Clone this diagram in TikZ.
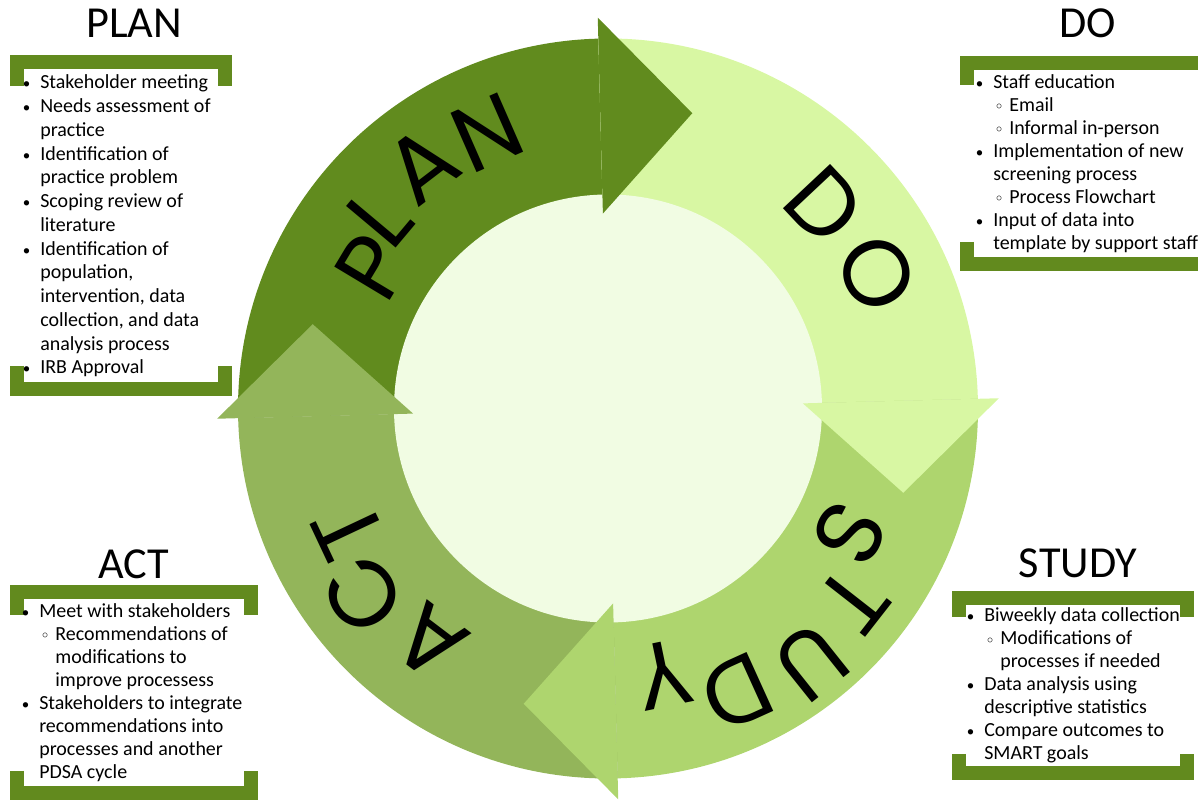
\documentclass[tikz,border=0pt]{standalone}
\usepackage{fontspec}
\setmainfont{Carlito}
\newfontfamily\ringfont{Poppins}
\definecolor{planc}{RGB}{97,139,30}
\definecolor{doc}{RGB}{216,247,163}
\definecolor{studyc}{RGB}{174,213,110}
\definecolor{actc}{RGB}{147,181,90}
\definecolor{innerc}{RGB}{241,252,227}
\definecolor{brk}{RGB}{98,138,30}
\newcommand{\bul}{\llap{\scalebox{0.75}{\textbullet}\hspace{7pt}}}
\newcommand{\subind}{\hspace*{11.4pt}}
\newcommand{\subbul}{\subind\llap{\raisebox{1pt}{\scalebox{0.6}{$\circ$}}\hspace{5pt}}}
\tikzset{
  bracket/.style={draw=brk,line width=0.35cm},
  boxtitle/.style={anchor=base,inner sep=0,font=\fontsize{31.5}{36}\selectfont},
  boxtext/.style={anchor=base west,inner sep=0,align=left,font=\fontsize{14.2}{16.4}\selectfont},
  ringletter/.style={inner sep=0,font=\ringfont\fontsize{66}{66}\selectfont}
}
\begin{document}
\begin{tikzpicture}[x=0.025cm,y=0.025cm]
	\useasboundingbox (0,0) rectangle (1198,800);
	\coordinate (c) at (608,391.5);
	% ring quarters
	\fill[planc] (c) -- ++(91.5:370) arc[start angle=91.5,end angle=181.5,radius=370] -- cycle;
	\fill[doc] (c) -- ++(1.5:370) arc[start angle=1.5,end angle=91.5,radius=370] -- cycle;
	\fill[studyc] (c) -- ++(-88.5:370) arc[start angle=-88.5,end angle=1.5,radius=370] -- cycle;
	\fill[actc] (c) -- ++(-178.5:370) arc[start angle=-178.5,end angle=-88.5,radius=370] -- cycle;
	\fill[innerc] (c) circle[radius=214];
	% arrow heads
	\begin{scope}[shift={(c)},rotate=91.5]
		\fill[planc] (195,0) -- (391,0) -- (293,-92) -- cycle;
	\end{scope}
	\begin{scope}[shift={(c)},rotate=1.5]
		\fill[doc] (195,0) -- (391,0) -- (293,-92) -- cycle;
	\end{scope}
	\begin{scope}[shift={(c)},rotate=-88.5]
		\fill[studyc] (195,0) -- (391,0) -- (293,-92) -- cycle;
	\end{scope}
	\begin{scope}[shift={(c)},rotate=-178.5]
		\fill[actc] (195,0) -- (391,0) -- (293,-92) -- cycle;
	\end{scope}
	% words on the ring
	\begin{scope}[shift={(c)}]
		\node[ringletter,rotate=59] (p1) at (149:275) {P};
		\node[ringletter,rotate=50] (p2) at (140:298) {L};
		\node[ringletter,rotate=37.4] (p3) at (127.4:306) {A};
		\node[ringletter,rotate=23.7] (p4) at (113.7:301) {N};
		\node[ringletter,rotate=-46.8] (d1) at (43.2:297) {D};
		\node[ringletter,rotate=-63.3] (d2) at (26.7:301) {O};
		\node[ringletter,rotate=-117.5] (s1) at (-27.5:272) {S};
		\node[ringletter,rotate=-128] (s2) at (-38:311) {T};
		\node[ringletter,rotate=-141.4] (s3) at (-51.4:325) {U};
		\node[ringletter,rotate=-155.6] (s4) at (-65.6:312) {D};
		\node[ringletter,rotate=-168.3] (s5) at (-78.3:272) {Y};
		\node[ringletter,rotate=142.8] (a1) at (232.8:294) {A};
		\node[ringletter,rotate=127.2] (a2) at (217.2:308) {C};
		\node[ringletter,rotate=115.2] (a3) at (205.2:287) {T};
	\end{scope}
	% side boxes
	\draw[bracket] (17,714) |- (225,738) -- (225,714);
	\draw[bracket] (17,434) |- (225,411) -- (225,434);
	\draw[bracket] (967,715) |- (1198,737);
	\draw[bracket] (967,558) |- (1198,536);
	\draw[bracket] (17,185) |- (251,208) -- (251,185);
	\draw[bracket] (17,29) |- (251,7) -- (251,29);
	\draw[bracket] (959,183) |- (1187,202) -- (1187,183);
	\draw[bracket] (959,46) |- (1187,27) -- (1187,46);
	\node[boxtitle] (plantitle) at (134,762) {PLAN};
	\node[boxtitle] (dotitle) at (1088,762) {DO};
	\node[boxtitle] (acttitle) at (133.5,221) {ACT};
	\node[boxtitle] (studytitle) at (1078,222) {STUDY};
	% text nodes sit on the baseline of their last line
	\node[boxtext,font=\fontsize{14.2}{16.9}\selectfont] (plantext) at (40,426) {\bul Stakeholder meeting\\
		\bul Needs assessment of\\
		practice\\
		\bul Identification of\\
		practice problem\\
		\bul Scoping review of\\
		literature\\
		\bul Identification of\\
		population,\\
		intervention, data\\
		collection, and data\\
		analysis process\\
		\bul IRB Approval};
	\node[boxtext] (dotext) at (993,550.5) {\bul Staff education\\
		\subbul Email\\
		\subbul Informal in-person\\
		\bul Implementation of new\\
		screening process\\
		\subbul Process Flowchart\\
		\bul Input of data into\\
		template by support staff};
	\node[boxtext] (acttext) at (39,21.5) {\bul Meet with stakeholders\\
		\subbul Recommendations of\\
		\subind modifications to\\
		\subind improve processess\\
		\bul Stakeholders to integrate\\
		recommendations into\\
		processes and another\\
		PDSA cycle};
	\node[boxtext] (studytext) at (984,40) {\bul Biweekly data collection\\
		\subbul Modifications of\\
		\subind processes if needed\\
		\bul Data analysis using\\
		descriptive statistics\\
		\bul Compare outcomes to\\
		SMART goals};
\end{tikzpicture}
\end{document}
